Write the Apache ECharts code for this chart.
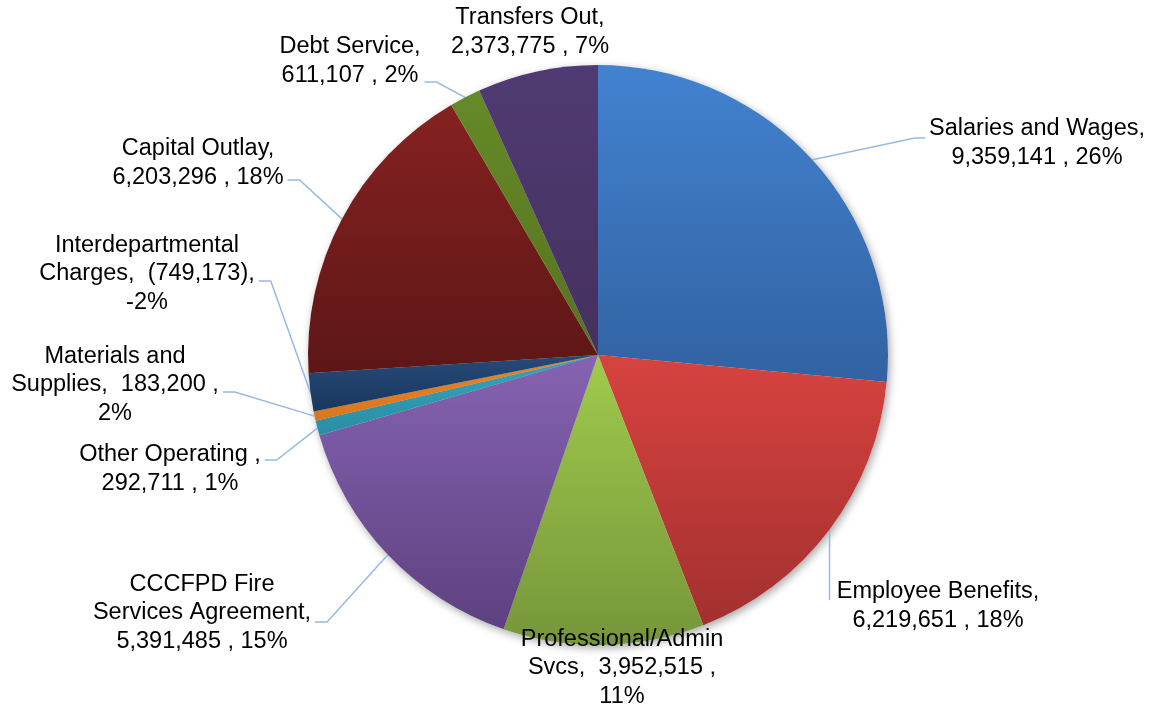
<!DOCTYPE html>
<html>
<head>
<meta charset="utf-8">
<script src="https://cdn.jsdelivr.net/npm/echarts@6/dist/echarts.min.js"></script>
<style>
  html, body { margin: 0; padding: 0; background: #ffffff; }
  #chart { width: 1155px; height: 708px; }
</style>
</head>
<body>
<div id="chart"></div>
<script>
// Expenditure categories, clockwise from 12 o'clock
const categories = [
  'Salaries and Wages',
  'Employee Benefits',
  'Professional/Admin Svcs',
  'CCCFPD Fire Services Agreement',
  'Other Operating ',
  'Materials and Supplies',
  'Interdepartmental Charges',
  'Capital Outlay',
  'Debt Service',
  'Transfers Out'
];
const amounts = [9359141, 6219651, 3952515, 5391485, 292711, 183200, -749173, 6203296, 611107, 2373775];
const shares = [26, 18, 11, 15, 1, 2, -2, 18, 2, 7];

// Slice shading: top colour, bottom colour
const shades = [
  ['#4282d0', '#3262a2'],
  ['#d7433f', '#a2302f'],
  ['#a0ca4c', '#76963a'],
  ['#8663b2', '#5d417f'],
  ['#33a5bd', '#2b8ea3'],
  ['#ec8427', '#d9761f'],
  ['#254b7a', '#1a375d'],
  ['#862121', '#5c1716'],
  ['#658a28', '#56731f'],
  ['#503a73', '#45315f']
];

// Label block centres, word wrapping (words per row) and leader-line settings
const labelSpots = [
  { x: 1037, y: 143, rows: [3, 2], line: true, ty: -5 },
  { x: 938, y: 606, rows: [2, 2], line: true, ty: -6 },
  { x: 622, y: 668, rows: [1, 2, 1], line: false },
  { x: 202, y: 613, rows: [2, 2, 2], line: true, ty: 9 },
  { x: 170, y: 469, rows: [3, 2], line: true, ty: -9 },
  { x: 115, y: 385, rows: [2, 2, 1], line: true, ty: 7 },
  { x: 147, y: 274, rows: [1, 2, 1], line: true, ty: 7 },
  { x: 198, y: 163, rows: [2, 2], line: true, ty: 17 },
  { x: 350, y: 61, rows: [2, 2], line: true, ty: 21 },
  { x: 530, y: 32, rows: [2, 2], line: false }
];

const fmt = n => n.toLocaleString('en-US');

// "Name,  value , pct%" in accounting style, wrapped per row counts
function labelText(i) {
  const tokens = categories[i].split(' ');
  tokens[tokens.length - 1] += ',';
  const nameCount = tokens.length;
  const v = amounts[i];
  tokens.push((v >= 0 ? fmt(v) + ' ' : '(' + fmt(-v) + ')') + ',');
  tokens.push(shares[i] + '%');
  const lines = [];
  let k = 0;
  labelSpots[i].rows.forEach(n => {
    let s = '';
    for (let j = 0; j < n; j++, k++) {
      if (j > 0) s += (k === nameCount) ? '  ' : ' ';
      s += tokens[k];
    }
    lines.push(s);
  });
  return lines.join('\n');
}

const pieCenter = [598, 355];
const pieRadius = 290;

const sliceData = categories.map((name, i) => ({
  name: name,
  value: Math.abs(amounts[i]),
  itemStyle: {
    color: {
      type: 'linear', x: 0, y: 0, x2: 0, y2: 1,
      colorStops: [
        { offset: 0, color: shades[i][0] },
        { offset: 1, color: shades[i][1] }
      ]
    }
  },
  labelLine: { show: labelSpots[i].line }
}));

const chart = echarts.init(document.getElementById('chart'), null, { renderer: 'canvas' });

chart.setOption({
  animation: false,
  backgroundColor: '#ffffff',
  series: [
    {
      // soft drop shadow under the whole pie
      type: 'pie',
      silent: true,
      z: 1,
      center: pieCenter,
      radius: pieRadius,
      startAngle: 90,
      clockwise: true,
      label: { show: false },
      labelLine: { show: false },
      itemStyle: {
        color: '#ffffff',
        borderWidth: 0,
        shadowBlur: 9,
        shadowOffsetX: 2,
        shadowOffsetY: 3,
        shadowColor: 'rgba(0,0,0,0.35)'
      },
      data: categories.map((name, i) => ({ name: name, value: Math.abs(amounts[i]) }))
    },
    {
      type: 'pie',
      z: 2,
      center: pieCenter,
      radius: pieRadius,
      startAngle: 90,
      clockwise: true,
      avoidLabelOverlap: false,
      itemStyle: { borderWidth: 0 },
      emphasis: { disabled: true },
      label: {
        show: true,
        position: 'outside',
        overflow: 'none',
        formatter: p => labelText(p.dataIndex),
        color: '#000000',
        fontFamily: '"Liberation Sans", Arial, sans-serif',
        fontSize: 23.5,
        lineHeight: 28.5,
        align: 'center'
      },
      labelLine: {
        show: true,
        length: 10,
        length2: 10,
        smooth: false,
        lineStyle: { color: '#97b9e2', width: 1.5 }
      },
      labelLayout: function (params) {
        const spot = labelSpots[params.dataIndex];
        const out = { x: spot.x, y: spot.y, align: 'center', verticalAlign: 'middle' };
        const p0 = params.labelLinePoints && params.labelLinePoints[0];
        if (spot.line && p0) {
          const w = params.labelRect.width;
          const left = spot.x - w / 2;
          const right = spot.x + w / 2;
          const ty = spot.y + (spot.ty || 0);
          if (p0[0] >= left - 15 && p0[0] <= right + 15) {
            out.labelLinePoints = [p0, [p0[0], ty]];
          } else if (p0[0] < left) {
            out.labelLinePoints = [p0, [left - 14, ty], [left - 4, ty]];
          } else {
            out.labelLinePoints = [p0, [right + 16, ty], [right + 4, ty]];
          }
        }
        return out;
      },
      data: sliceData
    }
  ]
});
</script>
</body>
</html>
